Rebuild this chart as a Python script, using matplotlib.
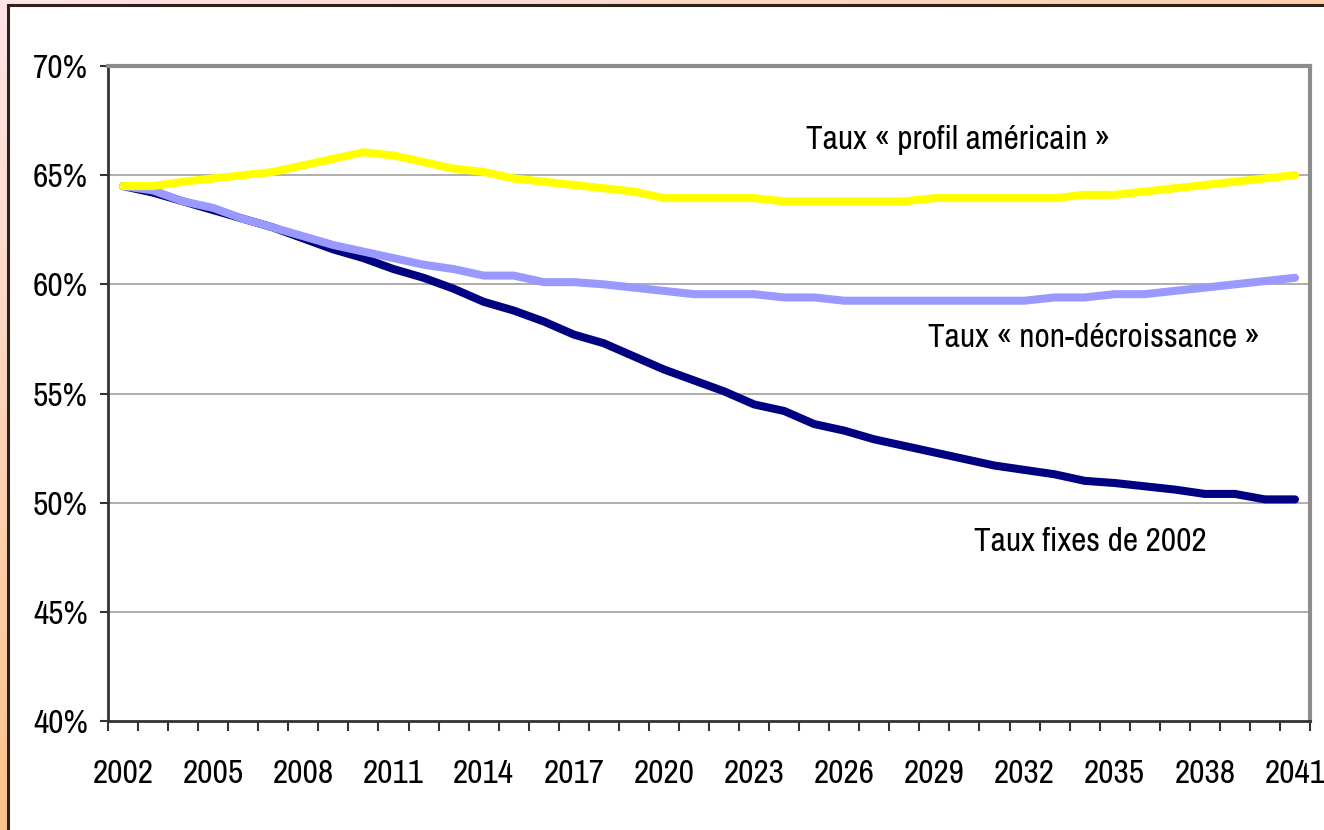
import numpy as np
import matplotlib
matplotlib.use("Agg")
import matplotlib.pyplot as plt
from matplotlib.patches import Rectangle

plt.rcParams['font.family'] = ['Archivo Narrow', 'Liberation Sans', 'DejaVu Sans']

# Data (taux d'emploi, %)
years = np.arange(2002, 2042)

taux_fixes = [64.5, 64.2, 63.8, 63.4, 63.0, 62.6, 62.1, 61.6, 61.2, 60.7,
              60.3, 59.8, 59.2, 58.8, 58.3, 57.7, 57.3, 56.7, 56.1, 55.6,
              55.1, 54.5, 54.2, 53.6, 53.3, 52.9, 52.6, 52.3, 52.0, 51.7,
              51.5, 51.3, 51.0, 50.9, 50.75, 50.6, 50.4, 50.4, 50.15, 50.15]

non_decroissance = [64.5, 64.3, 63.8, 63.5, 63.0, 62.6, 62.2, 61.8, 61.5, 61.2,
                    60.9, 60.7, 60.4, 60.4, 60.1, 60.1, 60.0, 59.85, 59.7, 59.55,
                    59.55, 59.55, 59.4, 59.4, 59.25, 59.25, 59.25, 59.25, 59.25, 59.25,
                    59.25, 59.4, 59.4, 59.55, 59.55, 59.7, 59.85, 60.0, 60.15, 60.3]

profil_americain = [64.5, 64.5, 64.7, 64.85, 65.0, 65.15, 65.45, 65.75, 66.05, 65.9,
                    65.6, 65.3, 65.15, 64.85, 64.7, 64.55, 64.4, 64.25, 63.95, 63.95,
                    63.95, 63.95, 63.8, 63.8, 63.8, 63.8, 63.8, 63.95, 63.95, 63.95,
                    63.95, 63.95, 64.1, 64.1, 64.25, 64.4, 64.55, 64.7, 64.85, 65.0]

series_labels = ["Taux fixes de 2002", "Taux « non-décroissance »", "Taux « profil américain »"]
series_colors = ["#000080", "#9999ff", "#ffff00"]

fig = plt.figure(figsize=(13.24, 8.30), dpi=100)

# gradient background + white panel
bg = fig.add_axes([0, 0, 1, 1], zorder=-10)
gx, gy = np.meshgrid(np.linspace(0, 1, 200), np.linspace(0, 1, 200))
t = np.clip((gx * 0.6 + gy * 0.9) / 1.1, 0, 1)[..., None]
c0 = np.array([253, 228, 234]) / 255
c1 = np.array([252, 188, 118]) / 255
bg.imshow(c0 * (1 - t) + c1 * t, extent=[0, 1, 0, 1], aspect='auto', origin='upper')
bg.add_patch(Rectangle((8 / 1324, -0.1), 1.2, 1 - 5 / 830 + 0.1,
                       facecolor='white', edgecolor='#2e2118', linewidth=2.2))
bg.set_xlim(0, 1)
bg.set_ylim(0, 1)
bg.axis('off')

ax = fig.add_axes([108 / 1324, 1 - 721 / 830, 1202 / 1324, 655 / 830])
ax.set_facecolor('none')
x = np.arange(len(years))

for vals, col in zip([taux_fixes, non_decroissance, profil_americain], series_colors):
    ax.plot(x, vals, color=col, linewidth=5.8, solid_capstyle='round', solid_joinstyle='round')

ax.set_xlim(-0.5, len(years) - 0.5)
ax.set_ylim(40, 70)

ax.set_yticks(np.arange(40, 71, 5))
ax.set_yticklabels([f"{v}%" for v in range(40, 71, 5)], fontsize=24)
ax.tick_params(axis='y', length=5.8, width=1.5, pad=8.6, color='#333333')
for v in range(45, 70, 5):
    ax.axhline(v, color='#a8a8a8', linewidth=1.3, zorder=0)

ax.set_xticks(x[::3])
ax.set_xticklabels([str(y) for y in years[::3]], fontsize=24)
ax.set_xticks(np.arange(-0.5, len(years), 1), minor=True)
ax.tick_params(axis='x', which='major', length=0, pad=27)
ax.tick_params(axis='x', which='minor', length=7.2, width=1.5, color='#333333')

for s in ['left', 'bottom']:
    ax.spines[s].set_color('#333333')
    ax.spines[s].set_linewidth(2)
for s in ['top', 'right']:
    ax.spines[s].set_color('#8c8c8c')
    ax.spines[s].set_linewidth(3)

ax.text(27.8, 66.6, series_labels[2], fontsize=24, ha='center', va='center')
ax.text(32.3, 57.55, series_labels[1], fontsize=24, ha='center', va='center')
ax.text(32.2, 48.2, series_labels[0], fontsize=24, ha='center', va='center')

fig.savefig("out.png", dpi=100)
